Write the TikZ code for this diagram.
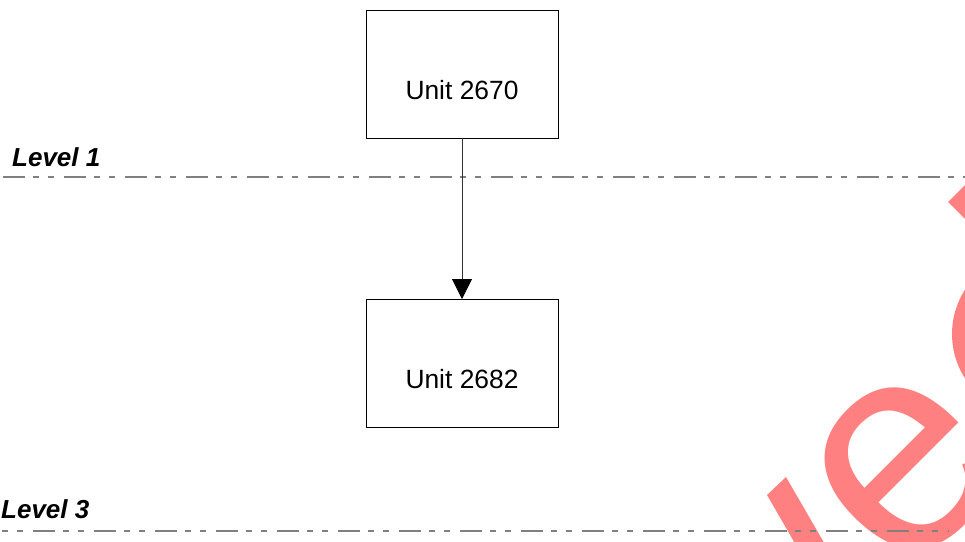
\documentclass[tikz,border=0pt]{standalone}
\usepackage{fontspec}
\setmainfont{Liberation Sans}
\usetikzlibrary{positioning, arrows.meta}
\definecolor{stamp}{RGB}{255,128,128}
\definecolor{levelgray}{RGB}{128,128,128}
\tikzset{>={Triangle[width=20pt,length=20pt,color=black]},
unit/.style={draw, line width=0.8pt, minimum width=192pt, minimum height=128pt, outer sep=0pt},
unittext/.style={font=\fontsize{26.4}{30}\selectfont, yshift=-16.5pt},
levelline/.style={levelgray, line width=1.6pt, dash pattern=on 22pt off 8pt on 6pt off 9pt on 6pt off 10pt},
levellabel/.style={font=\fontsize{26}{30}\selectfont\bfseries\itshape, anchor=base west, inner sep=0pt},
stampletter/.style={text=stamp, font=\fontsize{300}{300}\selectfont, rotate=45, inner sep=0pt},
}

\begin{document}
\begin{tikzpicture}[x=1pt, y=-1pt]
    \useasboundingbox (0,0) rectangle (965,541);
    \clip (0,0) rectangle (965,541);
    % stamp in the back
    \node[stampletter] (stampe) at (905,468) {e};
    \draw[stamp, line width=28pt] (1034,334) circle[radius=68pt];
    \fill[stamp] (948,202) -- (967,183) -- (986,202) -- (967,221) -- cycle;
    \fill[stamp] (767,495) -- (786,477) -- (841,572) -- (822,590) -- cycle;
    % levels
    \coordinate (l1w) at (0,177);
    \coordinate (l1e) at (965,177);
    \coordinate (l3w) at (0,531);
    \coordinate (l3e) at (949,531);
    \draw[levelline, dash phase=58pt] (l1w) -- (l1e);
    \draw[levelline, dash phase=28pt] (l3w) -- (l3e);
    \node[levellabel] (lev1) at (12,166) {Level 1};
    \node[levellabel] (lev3) at (1,518) {Level 3};
    % units
    \node[unit, label={[unittext]center:Unit 2670}] (u2670) at (462,74) {};
    \node[unit, below=161pt of u2670, label={[unittext]center:Unit 2682}] (u2682) {};
    \draw[->, line width=0.8pt, black!80] (u2670) -- (u2682);
\end{tikzpicture}
\end{document}
